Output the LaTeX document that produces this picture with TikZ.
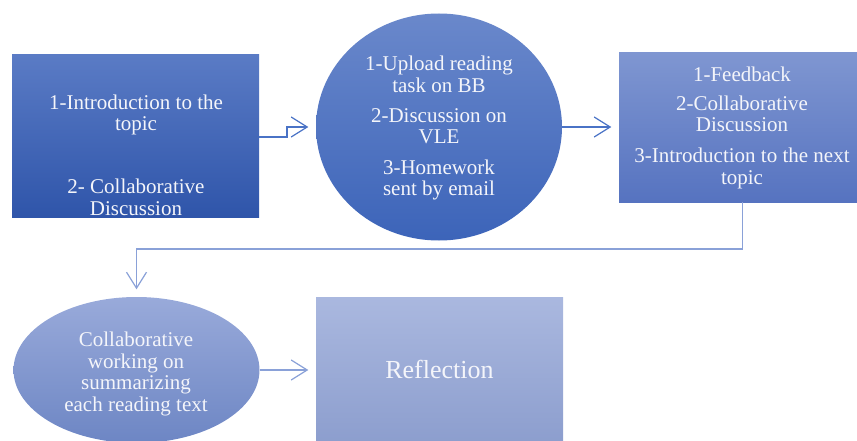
\documentclass[tikz,border=0pt]{standalone}
\usepackage{fontspec}
\setmainfont{Liberation Serif}
\newfontfamily\labelfont{Liberation Serif}
\usetikzlibrary{arrows.meta,shapes.geometric}

\definecolor{boxAtop}{HTML}{5A7BC5}
\definecolor{boxAbot}{HTML}{2F55AA}
\definecolor{ellAtop}{HTML}{6A88CB}
\definecolor{ellAbot}{HTML}{3C64B9}
\definecolor{boxBtop}{HTML}{7F96D1}
\definecolor{boxBbot}{HTML}{5673C0}
\definecolor{ellBtop}{HTML}{99AADA}
\definecolor{ellBbot}{HTML}{6D86C4}
\definecolor{boxCtop}{HTML}{AAB8DF}
\definecolor{boxCbot}{HTML}{899BCC}
\definecolor{linkdark}{HTML}{4A73C6}
\definecolor{linklight}{HTML}{8AA1D8}
\definecolor{txtwhite}{HTML}{F4F5FA}

\tikzset{
  card/.style={rectangle, minimum width=247pt, inner sep=0pt},
  oval/.style={ellipse, minimum width=246pt, inner sep=0pt},
  txt/.style={text=txtwhite, align=center, inner sep=0pt, anchor=base,
              font=\labelfont\fontsize{21}{21.5}\selectfont},
  link/.style={line width=1.2pt, shorten >=7.5pt,
               -{Straight Barb[length=16pt,width=20pt,line width=1.2pt]}},
}

\begin{document}
\begin{tikzpicture}[x=1pt,y=-1pt]
  \useasboundingbox (0,0) rectangle (857,441);
  \begin{scope}
  \clip (0,0) rectangle (857,441);

  % shapes
  \node[card, minimum height=162pt, top color=boxAtop, bottom color=boxAbot]
    (intro) at (135.5,136) {};
  \node[oval, minimum height=227pt, top color=ellAtop, bottom color=ellAbot]
    (upload) at (439,127) {};
  \node[card, minimum height=149pt, top color=boxBtop, bottom color=boxBbot]
    (feedback) at (742.5,127.5) {};
  \node[oval, minimum height=146pt, top color=ellBtop, bottom color=ellBbot]
    (summary) at (136.5,370) {};
  \node[card, minimum height=162pt, top color=boxCtop, bottom color=boxCbot]
    (reflect) at (439.5,378) {};

  % texts (anchored at the baseline of the last line)
  \node[txt] (introA) at (136,131) {1-Introduction to the\\topic};
  \node[txt] (introB) at (136,215) {2- Collaborative\\Discussion};
  \node[txt] (uploadT) at (439,196)
    {1-Upload reading\\task on BB\\[9pt]2-Discussion on\\VLE\\[9pt]3-Homework\\sent by email};
  \node[txt] (feedbackT) at (742,184)
    {1-Feedback\\[8pt]2-Collaborative\\Discussion\\[9pt]3-Introduction to the next\\topic};
  \node[txt] (summaryT) at (136,411)
    {Collaborative\\working on\\summarizing\\each reading text};
  \node[txt, font=\labelfont\fontsize{26}{28}\selectfont] (reflectT) at (439.5,378) {Reflection};

  % connectors
  \coordinate (step1) at (287,137);
  \coordinate (step2) at (287,127);
  \draw[link, linkdark] (intro.east |- step1) -- (step1) -- (step2) -- (upload.west);
  \draw[link, linkdark] (upload.east) -- (feedback.west |- upload.east);
  \coordinate (turnR) at (742.5,249);
  \coordinate (turnL) at (136.5,249);
  \draw[link, linklight] (feedback.south) -- (turnR) -- (turnL) -- (summary.north);
  \draw[link, linklight] (summary.east) -- (reflect.west |- summary.east);
  \end{scope}
\end{tikzpicture}
\end{document}
